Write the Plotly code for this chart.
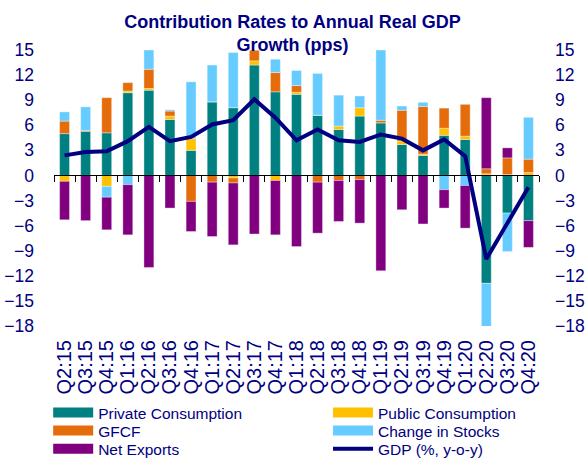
import plotly.graph_objects as go

quarters = ["Q2:15", "Q3:15", "Q4:15", "Q1:16", "Q2:16", "Q3:16", "Q4:16", "Q1:17",
            "Q2:17", "Q3:17", "Q4:17", "Q1:18", "Q2:18", "Q3:18", "Q4:18", "Q1:19",
            "Q2:19", "Q3:19", "Q4:19", "Q1:20", "Q2:20", "Q3:20", "Q4:20"]

private_cons = [5.0, 5.3, 5.1, 9.9, 10.2, 6.7, 3.0, 8.8, 8.1, 13.2, 10.0, 9.7, 7.2, 5.5,
                7.1, 6.3, 3.7, 2.4, 4.8, 4.3, -12.9, -4.5, -5.4]
public_cons = [-0.7, 0.0, -1.3, 0.2, 0.2, 0.4, 1.4, 0.0, -0.3, 0.5, -0.6, 0.25, 0.0, 0.4,
               1.0, 0.0, 0.4, 0.15, 0.85, 0.4, 0.2, 0.1, 0.35]
gfcf = [1.5, 0.1, 4.2, 1.0, 2.3, 0.6, -3.1, -0.8, -0.6, 1.3, 2.3, 0.8, -0.8, -0.6, -0.5,
        0.3, 3.7, 5.7, 2.4, 3.8, 0.6, 2.0, 1.6]
stocks = [1.1, 2.8, -1.3, -1.1, 2.3, 0.15, 6.8, 4.4, 6.6, 0.0, 1.6, 1.8, 5.0, 3.7, 1.4,
          8.4, 0.5, 0.5, -1.7, -1.2, -5.4, -4.6, 5.0]
net_exports = [-4.6, -5.4, -3.9, -6.0, -11.0, -3.9, -3.6, -6.5, -7.4, -7.0, -6.5, -8.5,
               -6.1, -4.9, -5.2, -11.4, -4.1, -5.8, -2.2, -5.1, 8.5, 1.2, -3.2]
gdp = [2.4, 2.8, 2.9, 4.1, 5.8, 4.1, 4.6, 6.1, 6.6, 9.1, 6.9, 4.2, 5.5, 4.2, 4.0, 4.9,
       4.4, 3.0, 4.3, 2.3, -10.0, -5.7, -1.4]

y_ticks = [15, 12, 9, 6, 3, 0, -3, -6, -9, -12, -15, -18]
y_range = [-18, 15]

NAVY = "#000080"
FONT = "Liberation Sans, Arial, sans-serif"

series = [
    ("Private Consumption", private_cons, "#008080"),
    ("Public Consumption", public_cons, "#FFC000"),
    ("GFCF", gfcf, "#E46C0A"),
    ("Change in Stocks", stocks, "#66CCFF"),
    ("Net Exports", net_exports, "#800080"),
]
gdp_name = "GDP (%, y-o-y)"

fig = go.Figure()
for name, vals, col in series:
    fig.add_trace(go.Bar(x=quarters, y=vals, name=name, marker_color=col,
                         marker_line=dict(width=0.6, color="rgba(255,255,255,0.6)"),
                         legendgroup=name, showlegend=False))

fig.add_trace(go.Scatter(x=quarters, y=gdp, mode="lines", name=gdp_name,
                         line=dict(color=NAVY, width=4), legendgroup="gdp",
                         showlegend=False))

# legend proxies (wide rectangles like the reference), one legend per entry
legend_ids = ["legend", "legend2", "legend3", "legend4", "legend5", "legend6"]
entries = [(n_, c_, 10) for n_, _, c_ in series] + [(gdp_name, NAVY, 4)]
for (name, col, w), lid in zip(entries, legend_ids):
    fig.add_trace(go.Scatter(x=[None], y=[None], mode="lines", name=name,
                             line=dict(color=col, width=w),
                             legendgroup=name if name != gdp_name else "gdp",
                             legend=lid))

n = len(quarters)
# helper trace for the zero axis with boundary ticks, and right y axis
fig.add_trace(go.Scatter(x=[-0.5, n - 0.5], y=[0, 0], xaxis="x2", yaxis="y",
                         mode="markers", marker=dict(opacity=0), showlegend=False,
                         hoverinfo="skip"))
fig.add_trace(go.Scatter(x=[quarters[0]], y=[0], xaxis="x", yaxis="y2",
                         mode="markers", marker=dict(opacity=0), showlegend=False,
                         hoverinfo="skip"))

# legend placement (paper coords): two columns, three rows
col_x = [-0.012, 0.565]
row_y = [-0.315, -0.380, -0.446]
legend_layout = {}
for i, lid in enumerate(legend_ids):
    legend_layout[lid] = dict(
        x=col_x[i % 2], xanchor="left", y=row_y[i // 2], yanchor="middle",
        orientation="v", bgcolor="rgba(0,0,0,0)", itemwidth=40,
        font=dict(size=15.5, color=NAVY, family=FONT))

fig.update_layout(
    width=585, height=459,
    margin=dict(l=54, r=46, t=50, b=133, autoexpand=False),
    paper_bgcolor="white", plot_bgcolor="white",
    barmode="relative", bargap=0.53,
    font=dict(family=FONT, color=NAVY),
    title=dict(text="<b>Contribution Rates to Annual Real GDP<br>Growth (pps)</b>",
               x=0.5, xanchor="center", yref="container", y=0.939, yanchor="middle",
               font=dict(size=18, color=NAVY, family=FONT)),
    xaxis=dict(type="category", range=[-0.5, n - 0.5], tickangle=-90,
               tickmode="array", tickvals=quarters, ticktext=quarters,
               showline=False, ticks="", showgrid=False,
               tickfont=dict(size=20, color=NAVY), ticklabelstandoff=9),
    xaxis2=dict(overlaying="x", anchor="free",
                position=(0 - y_range[0]) / (y_range[1] - y_range[0]),
                range=[-0.5, n - 0.5], showline=True, linecolor="black", linewidth=1,
                ticks="outside", ticklen=6, tickcolor="black", tickwidth=1,
                tickvals=[i - 0.5 for i in range(n + 1)], showticklabels=False,
                showgrid=False, zeroline=False),
    yaxis=dict(range=y_range, tickvals=y_ticks, showgrid=False, zeroline=False,
               showline=False, tickfont=dict(size=17.5, color=NAVY),
               ticklabelstandoff=19),
    yaxis2=dict(range=y_range, tickvals=y_ticks, overlaying="y", side="right",
                showgrid=False, zeroline=False, showline=False,
                tickfont=dict(size=17.5, color=NAVY), ticklabelstandoff=15),
    **legend_layout,
)

fig.write_html("out.html", config={"displayModeBar": False},
               post_script="document.body.style.margin='0';"
                           "document.body.style.overflow='hidden';")
